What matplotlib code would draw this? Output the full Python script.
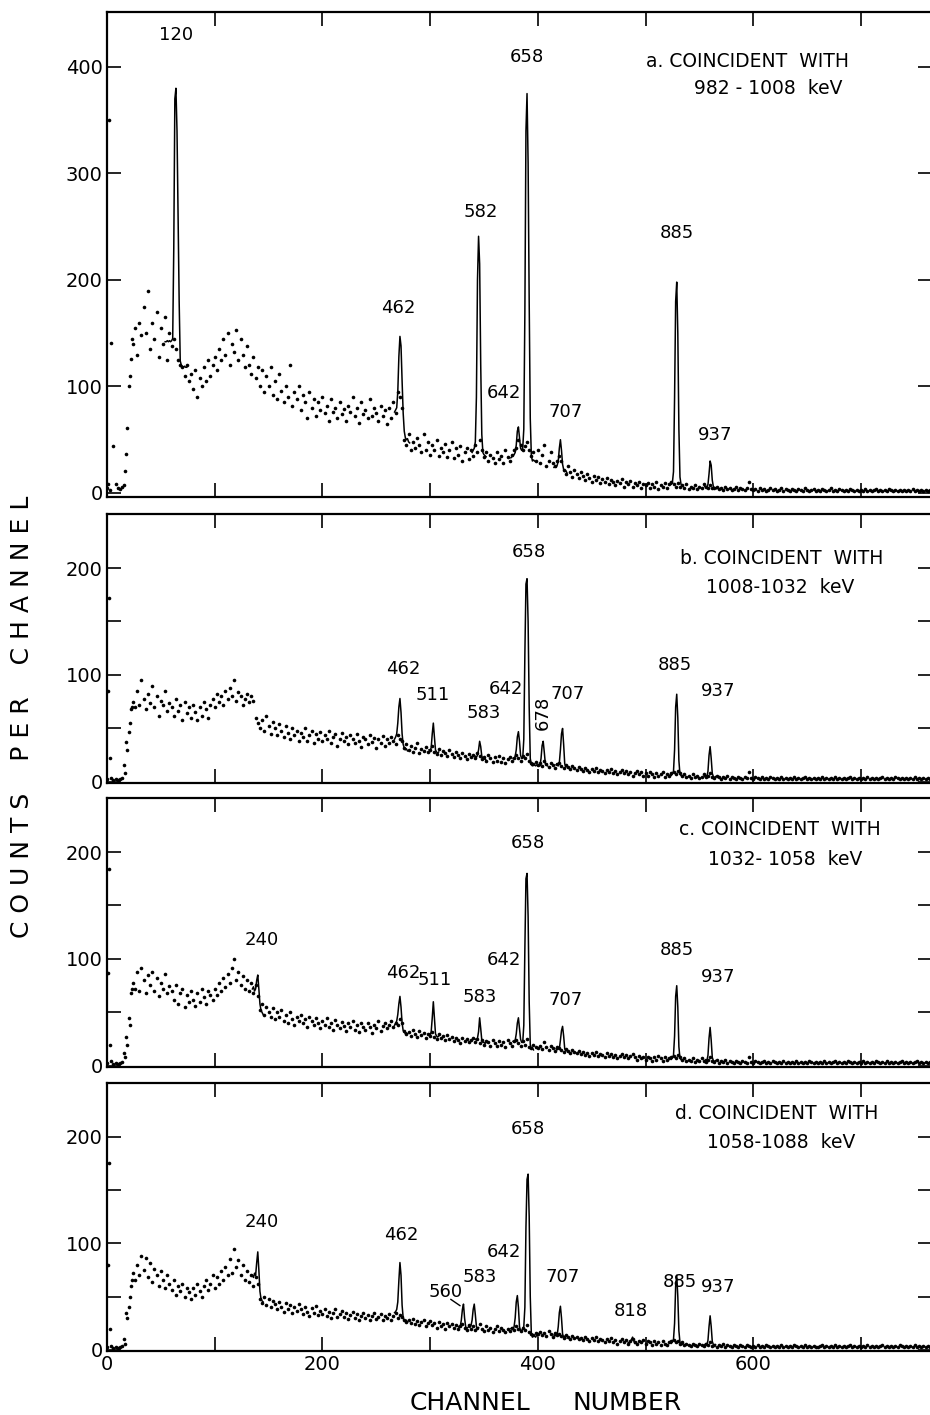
import numpy as np
import matplotlib
matplotlib.use("Agg")
import matplotlib.pyplot as plt

plt.rcParams['font.family'] = ['DejaVu Sans']

# ---------------- data (counts per channel, every 2nd channel from 0) -------------
bg_a = [5, 350, 141, 44, 8, 5, 4, 6, 7, 37,
        100, 126, 140, 155, 130, 160, 148, 175, 150, 190,
        135, 160, 145, 170, 128, 155, 140, 165, 125, 150,
        138, 145, 135, 125, 120, 118, 110, 120, 105, 112,
        98, 115, 90, 108, 100, 118, 105, 125, 110, 120,
        128, 115, 135, 125, 145, 130, 150, 120, 140, 132,
        153, 125, 145, 130, 118, 138, 120, 112, 128, 108,
        118, 100, 115, 95, 110, 100, 118, 92, 105, 88,
        112, 96, 85, 100, 90, 120, 82, 95, 88, 100,
        78, 92, 85, 70, 95, 80, 88, 72, 85, 78,
        90, 75, 82, 68, 88, 76, 80, 70, 85, 74,
        79, 68, 82, 76, 90, 72, 80, 66, 85, 74,
        78, 70, 88, 72, 80, 75, 68, 82, 72, 78,
        65, 80, 70, 85, 75, 95, 90, 80, 50, 45,
        55, 40, 48, 42, 52, 45, 38, 55, 40, 48,
        36, 45, 40, 50, 35, 42, 38, 46, 34, 40,
        48, 33, 42, 36, 44, 30, 38, 42, 32, 40,
        35, 45, 38, 50, 40, 34, 38, 30, 36, 33,
        28, 38, 32, 35, 28, 40, 34, 30, 36, 40,
        42, 50, 45, 40, 44, 48, 40, 35, 38, 30,
        40, 28, 36, 45, 25, 30, 38, 28, 25, 30,
        35, 30, 22, 18, 25, 20, 15, 22, 18, 14,
        20, 16, 12, 18, 14, 10, 16, 12, 15, 9,
        13, 10, 14, 8, 12, 10, 7, 11, 9, 13,
        6, 10, 8, 11, 6, 9, 7, 10, 5, 8,
        7, 9, 5, 8, 6, 10, 4, 7, 6, 9,
        5, 8, 10, 8, 6, 9, 6, 7, 5, 8,
        4, 6, 5, 7, 4, 6, 5, 8, 6, 5,
        7, 5, 5, 6, 4, 5, 3, 6, 4, 5,
        3, 4, 6, 3, 5, 4, 3, 5, 10, 4,
        3, 4, 2, 5, 3, 4, 2, 3, 5, 3,
        4, 2, 3, 5, 2, 4, 3, 2, 4, 3,
        2, 4, 3, 2, 5, 3, 2, 3, 4, 2,
        3, 2, 4, 3, 2, 3, 5, 2, 3, 2,
        4, 3, 2, 3, 2, 4, 3, 2, 3, 2,
        3, 2, 4, 2, 3, 2, 3, 4, 2, 3,
        2, 3, 2, 4, 3, 2, 3, 2, 3, 2,
        3, 2, 3, 2, 4, 2, 3, 2, 3, 2,
        3, 2, 3]

bg_b = [3, 172, 4, 2, 3, 2, 3, 4, 16, 37,
        47, 68, 75, 70, 85, 72, 95, 78, 68, 82,
        74, 90, 70, 80, 62, 76, 72, 85, 66, 74,
        70, 62, 78, 66, 72, 58, 75, 64, 70, 60,
        72, 65, 58, 70, 62, 75, 68, 60, 72, 78,
        70, 82, 75, 80, 72, 85, 78, 88, 80, 95,
        76, 84, 80, 72, 78, 82, 75, 80, 76, 60,
        55, 50, 58, 48, 62, 52, 45, 56, 50, 44,
        54, 48, 42, 52, 46, 40, 50, 44, 48, 38,
        46, 42, 50, 38, 44, 48, 36, 45, 40, 47,
        38, 44, 40, 48, 36, 42, 45, 34, 40, 46,
        38, 42, 35, 44, 40, 36, 45, 38, 33, 42,
        40, 35, 44, 37, 41, 32, 40, 36, 43, 34,
        40, 36, 42, 38, 35, 44, 40, 38, 32, 35,
        30, 34, 28, 32, 36, 27, 31, 29, 33, 28,
        30, 34, 28, 26, 31, 25, 29, 27, 24, 30,
        26, 23, 28, 25, 22, 27, 24, 21, 26, 23,
        25, 22, 27, 24, 21, 23, 20, 25, 22, 19,
        23, 20, 24, 19, 22, 18, 21, 23, 20, 22,
        25, 22, 20, 24, 22, 26, 20, 18, 17, 19,
        16, 18, 15, 20, 17, 14, 18, 16, 13, 17,
        18, 15, 13, 16, 14, 12, 15, 13, 11, 14,
        12, 10, 13, 11, 9, 12, 10, 13, 9, 11,
        10, 8, 11, 9, 12, 8, 10, 7, 9, 11,
        8, 10, 7, 9, 6, 8, 10, 7, 9, 6,
        8, 6, 9, 7, 5, 8, 6, 7, 9, 5,
        7, 6, 8, 9, 7, 10, 8, 6, 7, 5,
        6, 4, 7, 5, 6, 4, 5, 7, 5, 6,
        8, 5, 4, 6, 5, 3, 5, 4, 6, 3,
        5, 4, 3, 5, 4, 3, 5, 4, 9, 4,
        3, 5, 4, 3, 5, 3, 4, 3, 5, 4,
        3, 4, 3, 5, 3, 4, 3, 4, 3, 5,
        3, 4, 3, 4, 5, 3, 4, 3, 4, 3,
        4, 3, 5, 3, 4, 3, 4, 3, 5, 3,
        4, 3, 4, 3, 4, 5, 3, 4, 3, 4,
        3, 4, 3, 5, 3, 4, 3, 4, 3, 4,
        5, 3, 4, 3, 4, 3, 5, 4, 3, 4,
        3, 4, 3, 4, 3, 5, 3, 4, 3, 4,
        3, 4, 3]

bg_c = [3, 184, 5, 2, 3, 2, 3, 4, 12, 27,
        45, 68, 78, 72, 88, 70, 92, 80, 68, 85,
        76, 88, 70, 82, 65, 78, 72, 86, 68, 75,
        70, 62, 76, 58, 68, 72, 55, 66, 60, 70,
        62, 56, 68, 60, 72, 64, 58, 70, 66, 62,
        72, 66, 78, 70, 82, 74, 86, 78, 92, 100,
        80, 88, 76, 84, 72, 80, 70, 78, 68, 76,
        65, 52, 58, 48, 55, 50, 46, 54, 44, 50,
        46, 52, 42, 48, 40, 50, 44, 38, 46, 42,
        48, 40, 44, 36, 46, 42, 38, 45, 40, 35,
        42, 38, 45, 36, 40, 34, 43, 38, 35, 41,
        37, 33, 40, 36, 42, 34, 38, 32, 40, 36,
        34, 40, 36, 31, 38, 35, 42, 33, 37, 40,
        35, 38, 42, 36, 40, 38, 44, 40, 33, 30,
        32, 28, 34, 30, 27, 33, 29, 31, 26, 30,
        28, 32, 27, 25, 30, 26, 28, 24, 29, 25,
        27, 23, 26, 24, 21, 26, 23, 25, 22, 24,
        26, 22, 25, 21, 24, 20, 23, 22, 19, 24,
        21, 19, 23, 20, 22, 18, 24, 21, 19, 23,
        24, 21, 19, 23, 20, 25, 18, 17, 20, 18,
        17, 19, 16, 22, 18, 15, 19, 17, 14, 18,
        17, 15, 13, 16, 14, 12, 15, 13, 12, 14,
        11, 13, 10, 12, 9, 12, 10, 13, 9, 11,
        10, 8, 12, 9, 11, 8, 10, 7, 9, 11,
        8, 10, 7, 9, 11, 8, 6, 9, 7, 8,
        6, 8, 7, 5, 8, 6, 9, 7, 5, 8,
        6, 7, 8, 9, 7, 10, 8, 6, 7, 5,
        6, 5, 7, 4, 6, 5, 7, 5, 4, 6,
        8, 5, 4, 6, 3, 5, 4, 6, 3, 5,
        4, 3, 5, 4, 3, 5, 4, 3, 8, 4,
        3, 5, 4, 3, 4, 5, 3, 4, 3, 5,
        4, 3, 4, 3, 5, 3, 4, 3, 4, 3,
        5, 3, 4, 3, 4, 3, 5, 4, 3, 4,
        3, 4, 3, 5, 3, 4, 3, 4, 5, 3,
        4, 3, 4, 3, 5, 4, 3, 4, 3, 4,
        3, 5, 3, 4, 3, 4, 3, 5, 4, 3,
        4, 3, 5, 3, 4, 3, 4, 3, 4, 5,
        3, 4, 3, 4, 3, 4, 5, 3, 4, 3,
        4, 3, 4]

bg_d = [3, 175, 4, 2, 3, 2, 3, 4, 10, 35,
        40, 60, 72, 66, 80, 70, 88, 75, 86, 68,
        82, 64, 76, 70, 60, 74, 66, 58, 70, 62,
        56, 66, 52, 60, 55, 62, 50, 58, 54, 48,
        58, 52, 62, 55, 50, 60, 66, 56, 62, 70,
        58, 68, 62, 74, 66, 78, 70, 85, 72, 95,
        78, 84, 70, 80, 66, 74, 64, 70, 60, 68,
        62, 48, 44, 50, 42, 48, 40, 46, 43, 38,
        45, 40, 36, 44, 38, 42, 35, 40, 37, 43,
        38, 34, 40, 36, 32, 39, 35, 41, 33, 37,
        34, 38, 32, 36, 30, 35, 38, 31, 34, 37,
        31, 35, 29, 33, 36, 30, 34, 28, 32, 35,
        30, 33, 28, 32, 35, 29, 31, 34, 28, 32,
        30, 34, 28, 32, 35, 30, 33, 31, 28, 26,
        28, 25, 29, 24, 27, 23, 26, 28, 22, 25,
        27, 23, 25, 21, 26, 22, 24, 20, 25, 22,
        24, 21, 23, 20, 22, 24, 21, 19, 23, 20,
        22, 19, 21, 24, 20, 18, 22, 19, 21, 17,
        20, 22, 18, 21, 19, 17, 20, 18, 21, 19,
        22, 20, 18, 21, 19, 23, 17, 15, 14, 16,
        15, 17, 14, 16, 13, 18, 15, 12, 16, 14,
        15, 13, 11, 14, 12, 10, 13, 11, 12, 10,
        11, 9, 12, 10, 8, 11, 9, 12, 8, 10,
        9, 7, 10, 8, 11, 7, 9, 6, 8, 10,
        7, 9, 6, 8, 10, 7, 6, 8, 7, 9,
        6, 8, 7, 5, 8, 6, 7, 5, 8, 6,
        5, 7, 8, 9, 7, 8, 6, 7, 5, 6,
        5, 4, 6, 5, 4, 6, 5, 4, 6, 5,
        7, 4, 5, 3, 5, 4, 6, 3, 5, 4,
        3, 5, 4, 3, 5, 4, 3, 5, 4, 3,
        4, 3, 5, 3, 4, 3, 5, 4, 3, 4,
        3, 4, 3, 5, 3, 4, 3, 4, 3, 5,
        4, 3, 4, 3, 5, 3, 4, 3, 4, 3,
        3, 4, 5, 3, 4, 3, 4, 3, 5, 3,
        4, 3, 4, 3, 4, 5, 3, 4, 3, 4,
        3, 4, 3, 5, 3, 4, 3, 4, 3, 4,
        5, 3, 4, 3, 4, 3, 4, 3, 5, 4,
        3, 4, 3, 4, 3, 5, 3, 4, 3, 4,
        3, 4, 3]

# extra single points near the origin (odd channels)
extra_ch = [1, 3, 17, 19, 21, 23]
extra_a = [8, 3, 21, 61, 110, 145]
extra_b = [85, 22, 8, 30, 55, 70]
extra_c = [87, 20, 8, 20, 38, 72]
extra_d = [80, 20, 6, 30, 50, 66]

# peak regions drawn as connected lines: (first channel, counts per channel)
peaks_a = [(54, [142, 142, 143, 142, 143, 142, 143, 145, 230, 370, 380, 340, 260, 180, 124, 120, 119, 118, 119, 118, 118]),
           (267, [76, 78, 80, 95, 128, 147, 138, 105, 75, 58, 52, 50, 51, 48, 47]),
           (339, [38, 40, 42, 48, 90, 200, 241, 215, 120, 55, 38, 36, 35, 34]),
           (375, [33, 34, 35, 36, 38, 45, 58, 62, 52, 42, 40, 42, 60, 170, 340, 375, 310, 180, 70, 35, 30, 31, 30]),
           (415, [24, 25, 24, 26, 30, 42, 50, 40, 27, 22, 20, 21, 19]),
           (522, [8, 9, 8, 10, 20, 90, 180, 198, 150, 60, 15, 8, 7, 6]),
           (555, [6, 5, 6, 8, 18, 30, 26, 12, 6, 5, 5, 4])]

peaks_b = [(267, [40, 42, 45, 55, 70, 78, 65, 45, 35, 32, 30, 31, 29]),
           (299, [30, 29, 32, 45, 55, 42, 30, 28, 27, 28]),
           (342, [24, 23, 25, 30, 38, 33, 24, 22, 21, 22, 20]),
           (377, [22, 22, 24, 30, 42, 47, 38, 25, 22, 22, 40, 120, 185, 190, 150, 70, 22, 16, 15, 17, 16, 15, 16, 15,
                  16, 15, 22, 34, 38, 28, 17, 16, 15]),
           (417, [16, 17, 15, 18, 30, 45, 50, 35, 17, 14, 15, 13]),
           (523, [7, 6, 8, 10, 30, 70, 82, 60, 20, 7, 6, 5, 6]),
           (555, [5, 6, 5, 10, 25, 33, 22, 8, 5, 4, 5])]

peaks_c = [(135, [72, 74, 70, 72, 80, 85, 72, 58, 52, 50, 48]),
           (267, [38, 40, 42, 48, 58, 65, 55, 40, 33, 32, 30, 31, 30]),
           (299, [30, 28, 32, 45, 60, 45, 30, 28, 27, 28]),
           (342, [25, 24, 26, 32, 45, 35, 24, 22, 22, 21, 22]),
           (377, [23, 22, 24, 30, 40, 45, 35, 25, 22, 22, 38, 110, 175, 180, 140, 60, 20, 16, 17, 15]),
           (417, [16, 15, 17, 16, 24, 33, 37, 28, 16, 14, 15, 13]),
           (523, [7, 6, 8, 10, 28, 65, 75, 55, 18, 7, 6, 5, 6]),
           (555, [5, 6, 5, 10, 26, 36, 24, 8, 5, 4, 5])]

peaks_d = [(135, [70, 68, 72, 70, 82, 92, 75, 55, 48, 46, 45]),
           (267, [35, 36, 38, 45, 65, 82, 70, 42, 30, 28, 27, 28, 26]),
           (326, [22, 21, 22, 28, 38, 43, 30, 22, 20, 21, 22, 21, 23, 28, 38, 43, 33, 22, 20, 21]),
           (375, [20, 21, 19, 22, 30, 45, 51, 40, 22, 18, 18, 20, 22, 40, 115, 160, 165, 125, 50, 15, 12, 14, 13, 12, 14, 13]),
           (415, [14, 13, 15, 14, 22, 35, 41, 30, 15, 12, 13, 11]),
           (484, [7, 6, 8, 10, 12, 9, 6, 7, 6]),
           (523, [7, 6, 8, 10, 25, 60, 70, 50, 18, 7, 6, 5, 6]),
           (555, [5, 6, 5, 9, 22, 32, 22, 8, 5, 4, 5])]

# energy labels: (text, channel, counts)
labels_a = [("120", 64, 430), ("462", 270, 174), ("582", 347, 264), ("642", 369, 94),
            ("658", 390, 409), ("707", 426, 76), ("885", 529, 244), ("937", 565, 54)]
labels_b = [("462", 275, 106), ("511", 302, 81), ("583", 350, 64), ("642", 370, 87),
            ("658", 392, 215), ("707", 428, 82), ("885", 527, 109), ("937", 567, 85)]
labels_c = [("240", 144, 118), ("462", 275, 87), ("511", 304, 80), ("583", 346, 64),
            ("642", 369, 99), ("658", 391, 208), ("707", 426, 62), ("885", 529, 108), ("937", 567, 83)]
labels_d = [("240", 144, 120), ("462", 273, 108), ("560", 314, 54), ("583", 346, 68),
            ("642", 369, 92), ("658", 391, 207), ("707", 423, 68), ("818", 486, 37),
            ("885", 532, 64), ("937", 567, 59)]

titles = ["a. COINCIDENT  WITH", "b. COINCIDENT  WITH", "c. COINCIDENT  WITH", "d. COINCIDENT  WITH"]
gates = ["982 - 1008  keV", "1008-1032  keV", "1032- 1058  keV", "1058-1088  keV"]
title_pos = [(500, 405, 614, 380), (532, 209, 625, 182), (531, 221, 630, 193), (527, 222, 626, 195)]

# ---------------- layout ----------------
W, H = 930.0, 1415.0
fig = plt.figure(figsize=(9.3, 14.15), dpi=100)
left_px = 107
right_px = 932
px_per_ch = 1.077
xmax = (right_px - left_px) / px_per_ch

panel_px = [(12, 497, (-3.8, 451.6)), (514, 783, (-1, 250.5)),
            (798, 1067, (-1, 250.5)), (1083, 1351, (-1, 250.5))]

bgs = [bg_a, bg_b, bg_c, bg_d]
extras = [extra_a, extra_b, extra_c, extra_d]
peaks = [peaks_a, peaks_b, peaks_c, peaks_d]
labels = [labels_a, labels_b, labels_c, labels_d]

for i, (top, bot, ylim) in enumerate(panel_px):
    ax = fig.add_axes([left_px / W, 1 - bot / H, (right_px - left_px) / W, (bot - top) / H])
    ax.set_xlim(0, xmax)
    ax.set_ylim(*ylim)
    vals = np.array(bgs[i])
    ch = np.arange(len(vals)) * 2
    ax.plot(ch, vals, 'o', color='black', ms=2.6, mew=0, clip_on=True)
    ax.plot(extra_ch, extras[i], 'o', color='black', ms=2.6, mew=0)
    for start, pv in peaks[i]:
        pch = start + np.arange(len(pv))
        ax.plot(pch, pv, '-', color='black', lw=1.1)
    for txt, x, y in labels[i]:
        ax.text(x, y, txt, ha='center', va='center', fontsize=13)
    tx, ty, gx, gy = title_pos[i]
    ax.text(tx, ty, titles[i], ha='left', va='center', fontsize=13.5)
    ax.text(gx, gy, gates[i], ha='center', va='center', fontsize=13.5)
    if i == 1:
        ax.text(405, 65, "678", ha='center', va='center', fontsize=13, rotation=90)
    if i == 3:
        ax.annotate("", xy=(330, 40), xytext=(317, 49),
                    arrowprops=dict(arrowstyle='-', color='black', lw=1.0))

    for s in ['left', 'top', 'bottom']:
        ax.spines[s].set_linewidth(1.6)
    ax.spines['right'].set_visible(False)
    ax.tick_params(direction='in', length=10, width=1.2, top=True, right=True,
                   labelsize=14, pad=3)
    ax.set_xticks(np.arange(0, 701, 100))
    if i == 3:
        ax.set_xticklabels(['0', '', '200', '', '400', '', '600', ''])
    else:
        ax.set_xticklabels([])
    if i == 0:
        ax.set_yticks([0, 100, 200, 300, 400])
        ax.set_yticklabels(['0', '100', '200', '300', '400'])
    else:
        ax.set_yticks([0, 50, 100, 150, 200])
        ax.set_yticklabels(['0', '', '100', '', '200'])

fig.text(22 / W, 1 - 717 / H, "C O U N T S    P E R    C H A N N E L",
         rotation=90, ha='center', va='center', fontsize=18)
fig.text(470 / W, 1 - 1403 / H, "CHANNEL", ha='center', va='center', fontsize=18)
fig.text(627 / W, 1 - 1403 / H, "NUMBER", ha='center', va='center', fontsize=18)

fig.savefig("out.png", dpi=100)
